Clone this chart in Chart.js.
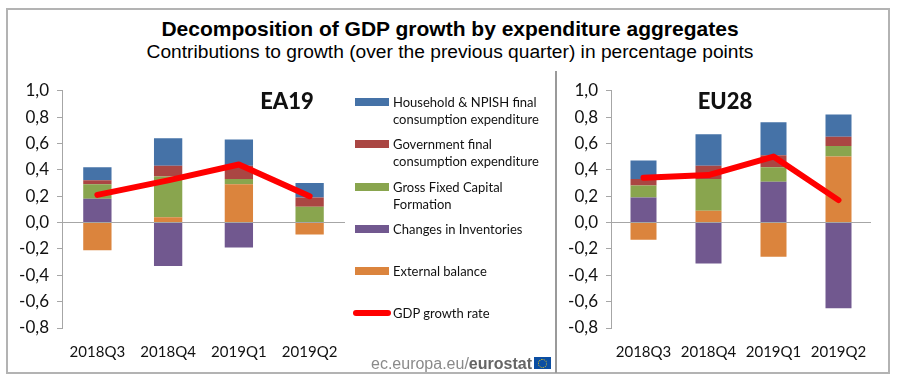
<!DOCTYPE html>
<html>
<head>
<meta charset="utf-8">
<title>Decomposition of GDP growth</title>
<script src="https://cdn.jsdelivr.net/npm/chart.js@4/dist/chart.umd.min.js"></script>
<style>
html, body { margin: 0; padding: 0; background: #fff; }
#page { position: relative; width: 900px; height: 383px; overflow: hidden; font-family: "Lato", sans-serif; color: #111; }
#frame { position: absolute; left: 6px; top: 8px; width: 880px; height: 362px; border: 2px solid #b3b3b3; box-sizing: content-box; }
#divider { position: absolute; left: 555px; top: 71px; width: 2px; height: 302px; background: #9a9a9a; }
.head { position: absolute; left: 0; width: 900px; text-align: center; font-family: "Liberation Sans", Arial, sans-serif; white-space: nowrap; }
#title { top: 17px; font-size: 21px; font-weight: bold; color: #000; }
#subtitle { top: 41px; font-size: 19.2px; color: #000; }
canvas { position: absolute; }
.region { position: absolute; top: 87px; font-size: 22px; font-weight: 900; transform: translateX(-50%); }
.swatch { position: absolute; left: 355px; width: 34px; height: 8px; }
.lab { position: absolute; left: 393px; font-size: 13px; line-height: 17px; white-space: nowrap; }
#source { position: absolute; left: 371px; top: 355px; font-family: "Liberation Sans", Arial, sans-serif; font-size: 16px; color: #8a8a8a; white-space: nowrap; }
#source b { color: #666; }
#flag { position: absolute; left: 534px; top: 357px; width: 17px; height: 12px; background: #0b4ea2; }
#flag i { position: absolute; left: 4px; top: 1.5px; width: 7px; height: 7px; border: 1px dotted #e8c81e; border-radius: 50%; }
</style>
</head>
<body>
<div id="page">
    <div id="frame"></div>
    <div id="divider"></div>
    <div class="head" id="title">Decomposition of GDP growth by expenditure aggregates</div>
    <div class="head" id="subtitle">Contributions to growth (over the previous quarter) in percentage points</div>
    <canvas id="chartEA"></canvas>
    <canvas id="chartEU"></canvas>
    <div class="region" style="left:287px">EA19</div>
    <div class="region" style="left:725px">EU28</div>
    <div id="legend"></div>
    <div id="source">ec.europa.eu/<b>eurostat</b></div>
    <div id="flag"><i></i></div>
</div>
<script>
const quarters = ["2018Q3", "2018Q4", "2019Q1", "2019Q2"];
const yTicks = [-0.8, -0.6, -0.4, -0.2, 0, 0.2, 0.4, 0.6, 0.8, 1];

const householdName = "Household & NPISH final consumption expenditure";
const governmentName = "Government final consumption expenditure";
const gfcfName = "Gross Fixed Capital Formation";
const inventoriesName = "Changes in Inventories";
const externalName = "External balance";
const gdpName = "GDP growth rate";

// EA19
const eaHousehold = [0.10, 0.21, 0.20, 0.11];
const eaGovernment = [0.03, 0.08, 0.10, 0.07];
const eaGfcf = [0.11, 0.31, 0.04, 0.12];
const eaInventories = [0.18, -0.33, -0.19, 0];
const eaExternal = [-0.21, 0.04, 0.29, -0.09];
const eaGdp = [0.21, 0.32, 0.44, 0.20];

// EU28
const euHousehold = [0.14, 0.24, 0.25, 0.17];
const euGovernment = [0.05, 0.10, 0.09, 0.07];
const euGfcf = [0.09, 0.24, 0.11, 0.08];
const euInventories = [0.19, -0.31, 0.31, -0.65];
const euExternal = [-0.13, 0.09, -0.26, 0.50];
const euGdp = [0.34, 0.36, 0.50, 0.17];

const blue = "#4572a7";
const red = "#aa4643";
const green = "#89a54e";
const purple = "#71588f";
const orange = "#db843d";
const gdpRed = "#ff0000";
const axisGrey = "#a6a6a6";

function barSet(label, data, color) {
    return { type: "bar", label: label, data: data, backgroundColor: color, order: 2, barPercentage: 1, categoryPercentage: 0.4 };
}

function makeChart(id, box, series) {
    const canvas = document.getElementById(id);
    canvas.style.left = box.left + "px";
    canvas.style.top = "80px";
    canvas.width = box.width;
    canvas.height = 295;

    const sets = [
        barSet(externalName, series.external, orange),
        barSet(inventoriesName, series.inventories, purple),
        barSet(gfcfName, series.gfcf, green),
        barSet(governmentName, series.government, red),
        barSet(householdName, series.household, blue),
        {
            type: "line", label: gdpName, data: series.gdp, order: 1,
            borderColor: gdpRed, borderWidth: 6, borderCapStyle: "round", borderJoinStyle: "round",
            pointRadius: 0, tension: 0, fill: false
        }
    ];

    return new Chart(canvas, {
        data: { labels: quarters, datasets: sets },
        options: {
            responsive: false,
            animation: false,
            layout: { padding: { top: 10.7, right: box.width - box.axisX - box.plotW, left: 0, bottom: 0 } },
            plugins: { legend: { display: false }, tooltip: { enabled: false } },
            scales: {
                x: {
                    stacked: true,
                    grid: { display: false },
                    border: { display: false },
                    ticks: { color: "#111", font: { family: "Lato", size: 15 }, padding: 7, maxRotation: 0 },
                    afterFit: s => { s.height = 47; }
                },
                y: {
                    stacked: true,
                    min: -0.8,
                    max: 1,
                    afterBuildTicks: s => { s.ticks = yTicks.map(v => ({ value: v })); },
                    afterFit: s => { s.width = box.axisX; s.paddingTop = 0; s.paddingBottom = 0; },
                    grid: {
                        color: c => (c.tick && c.tick.value === 0) ? axisGrey : "transparent",
                        tickColor: axisGrey,
                        tickLength: 5,
                        lineWidth: 1
                    },
                    border: { color: axisGrey, width: 1 },
                    ticks: {
                        color: "#111",
                        font: { family: "Lato", size: 17 },
                        padding: 8,
                        callback: v => v.toFixed(1).replace(".", ",")
                    }
                }
            }
        }
    });
}

makeChart("chartEA", { left: 8, width: 342, axisX: 54, plotW: 283 }, {
    household: eaHousehold, government: eaGovernment, gfcf: eaGfcf,
    inventories: eaInventories, external: eaExternal, gdp: eaGdp
});
makeChart("chartEU", { left: 560, width: 320, axisX: 51, plotW: 260 }, {
    household: euHousehold, government: euGovernment, gfcf: euGfcf,
    inventories: euInventories, external: euExternal, gdp: euGdp
});

// legend rows on the right of the EA19 panel
const legendRows = [
    { y: 102, color: blue, lines: ["Household & NPISH final", "consumption expenditure"] },
    { y: 144, color: red, lines: ["Government final", "consumption expenditure"] },
    { y: 187, color: green, lines: ["Gross Fixed Capital", "Formation"] },
    { y: 229, color: purple, lines: ["Changes in Inventories"] },
    { y: 271, color: orange, lines: ["External balance"] },
    { y: 313, color: gdpRed, lines: ["GDP growth rate"], isLine: true }
];
const legendEl = document.getElementById("legend");
legendRows.forEach(row => {
    const sw = document.createElement("div");
    sw.className = "swatch";
    sw.style.background = row.color;
    sw.style.top = (row.y - 4) + "px";
    if (row.isLine) {
        sw.style.left = "353px";
        sw.style.width = "38px";
        sw.style.height = "6px";
        sw.style.top = (row.y - 3) + "px";
        sw.style.borderRadius = "3px";
    }
    legendEl.appendChild(sw);
    const lab = document.createElement("div");
    lab.className = "lab";
    lab.style.top = (row.y - 8) + "px";
    lab.innerHTML = row.lines.join("<br>").replace("&", "&amp;");
    legendEl.appendChild(lab);
});
</script>
</body>
</html>
